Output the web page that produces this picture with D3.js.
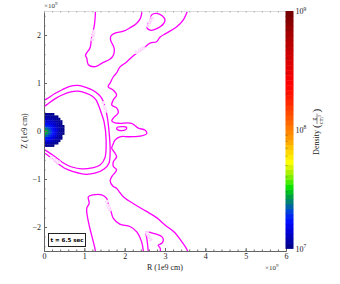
<!DOCTYPE html>
<html>
<head>
<meta charset="utf-8">
<script src="https://cdn.jsdelivr.net/npm/d3@7"></script>
<style>
 body { margin: 0; background: #fff; }
 svg { display: block; font-family: "Liberation Serif", "DejaVu Serif", serif; }
</style>
</head>
<body>
<svg width="340" height="284"></svg>
<script>
// ---- data (R, Z in 1e9 cm) ----
var xTicks = [0, 1, 2, 3, 4, 5, 6];
var yTicks = [-2, -1, 0, 1, 2];
var cbTickVals = [1e7, 1e8, 1e9];
var cbTickExp = ["7", "8", "9"];
var timeLabel = "t = 6.5 sec";
var levelLabel = "0.005";

// density blob, log10(rho) per cell (0 = below colour range)
var blobR = [0, 0.05, 0.10, 0.15, 0.20, 0.25, 0.30, 0.35, 0.40, 0.45];
var blobZ = [0.375, 0.325, 0.275, 0.225, 0.175, 0.125, 0.075, 0.025, -0.025, -0.075, -0.125, -0.175, -0.225, -0.275];
var blobLogRho = [
  [7.03, 7.03, 7.03, 7.02, 7.02, 0, 0, 0, 0, 0],
  [7.06, 7.06, 7.05, 7.05, 7.04, 7.03, 7.02, 0, 0, 0],
  [7.10, 7.10, 7.09, 7.08, 7.07, 7.05, 7.04, 7.02, 0, 0],
  [7.15, 7.14, 7.13, 7.12, 7.10, 7.08, 7.06, 7.04, 7.02, 0],
  [7.21, 7.20, 7.18, 7.16, 7.14, 7.11, 7.08, 7.05, 7.03, 0],
  [7.29, 7.27, 7.25, 7.22, 7.18, 7.14, 7.10, 7.06, 7.03, 7.01],
  [7.39, 7.36, 7.32, 7.27, 7.22, 7.17, 7.12, 7.07, 7.04, 7.02],
  [7.48, 7.44, 7.38, 7.31, 7.25, 7.19, 7.13, 7.08, 7.04, 7.02],
  [7.46, 7.42, 7.36, 7.30, 7.24, 7.18, 7.12, 7.07, 7.04, 7.01],
  [7.37, 7.34, 7.30, 7.25, 7.20, 7.15, 7.10, 7.06, 7.03, 0],
  [7.27, 7.25, 7.22, 7.19, 7.15, 7.11, 7.08, 7.05, 7.02, 0],
  [7.18, 7.17, 7.15, 7.13, 7.10, 7.07, 7.05, 7.03, 0, 0],
  [7.10, 7.10, 7.09, 7.07, 7.05, 7.04, 7.02, 0, 0, 0],
  [7.04, 7.04, 7.03, 7.02, 7.01, 0, 0, 0, 0, 0]
];

// contour lines of the 0.005 level
var topPlume = [[1.28,2.55],[1.25,2.21],[1.18,1.94],[1.14,1.73],[1.03,1.58],[1.06,1.52],[1.10,1.38],[1.27,1.34],[1.43,1.41],[1.64,1.50],[1.72,1.58],[1.74,1.72],[1.65,1.90],[1.66,1.98],[1.76,2.04],[1.97,2.08],[2.13,2.15],[2.28,2.23],[2.38,2.33],[2.42,2.44],[2.42,2.55]];
var smallTopLoop = [[2.67,2.42],[2.79,2.45],[2.93,2.40],[3.00,2.31],[2.88,2.17],[2.63,2.10],[2.55,2.17],[2.63,2.31]];
var outerFront = [[3.58,2.55],[3.45,2.31],[3.29,2.17],[3.04,2.04],[2.88,1.96],[2.79,1.86],[2.63,1.83],[2.42,1.69],[2.23,1.58],[2.05,1.44],[1.88,1.33],[1.80,1.21],[1.72,1.13],[1.64,1.00],[1.59,0.92],[1.72,0.85],[1.80,0.75],[1.72,0.65],[1.68,0.54],[1.80,0.48],[1.84,0.38],[1.72,0.27],[1.68,0.21],[1.76,0.17],[1.88,0.16],[2.17,0.16],[2.34,0.06],[2.50,0.02],[2.55,-0.05],[2.42,-0.10],[2.13,-0.12],[1.88,-0.12],[1.76,-0.19],[1.72,-0.26],[1.68,-0.36],[1.76,-0.46],[1.80,-0.54],[1.72,-0.64],[1.72,-0.74],[1.80,-0.81],[1.68,-0.95],[1.64,-1.04],[1.71,-1.15],[1.79,-1.19],[1.98,-1.38],[2.23,-1.52],[2.53,-1.67],[2.80,-1.81],[3.00,-1.96],[3.22,-2.10],[3.42,-2.31],[3.55,-2.48],[3.57,-2.55]];
var bulgeLoop = [[1.80,0.06],[1.93,0.09],[2.05,0.07],[2.01,0.02],[1.84,0.02]];
var shellOuter = [[0,0.64],[0.07,0.67],[0.27,0.78],[0.45,0.86],[0.64,0.93],[0.84,0.95],[1.04,0.91],[1.21,0.85],[1.34,0.77],[1.44,0.67],[1.56,0.33],[1.62,-0.08],[1.64,-0.40],[1.61,-0.67],[1.49,-0.79],[1.26,-0.88],[0.99,-0.90],[0.74,-0.85],[0.50,-0.77],[0.30,-0.65],[0.15,-0.54],[0.05,-0.48],[0,-0.46]];
var shellInner = [[0,0.51],[0.07,0.55],[0.27,0.67],[0.45,0.75],[0.64,0.81],[0.84,0.83],[1.04,0.79],[1.19,0.73],[1.29,0.65],[1.34,0.56],[1.41,0.40],[1.49,0.19],[1.54,-0.19],[1.51,-0.56],[1.39,-0.71],[1.19,-0.77],[0.94,-0.79],[0.69,-0.75],[0.45,-0.65],[0.25,-0.52],[0.07,-0.42],[0,-0.38]];
var lowerPlume = [[1.27,-2.55],[1.27,-2.48],[1.18,-2.17],[1.10,-1.89],[1.06,-1.61],[1.12,-1.51],[1.10,-1.37],[1.22,-1.33],[1.43,-1.33],[1.55,-1.40],[1.59,-1.51],[1.64,-1.61],[1.72,-1.82],[1.88,-1.94],[2.13,-1.99],[2.30,-2.10],[2.42,-2.31],[2.46,-2.48],[2.47,-2.55]];
var bottomLoop = [[2.59,-2.55],[2.57,-2.38],[2.55,-2.24],[2.53,-2.10],[2.67,-2.12],[2.79,-2.15],[2.92,-2.20],[2.96,-2.27],[2.92,-2.34],[2.83,-2.38],[2.88,-2.44],[2.88,-2.55]];

var openLines = [topPlume, outerFront, shellOuter, shellInner, lowerPlume, bottomLoop];
var closedLines = [smallTopLoop, bulgeLoop];

// where the level labels sit, and their angle
var labelR = [1.22, 2.38, 1.50, 0.27, 1.59, 2.60, 2.63];
var labelZ = [1.99, 1.69, 0.50, -0.60, -1.56, -2.19, 2.27];
var labelAngle = [-82, -30, 72, 35, 68, 62, -60];

// colour map (position along bar -> colour)
var cmapPos = [0, 0.034, 0.08, 0.12, 0.155, 0.185, 0.22, 0.256, 0.29, 0.33, 0.365, 0.415, 0.458, 0.5, 0.563, 0.626, 0.689, 0.794, 0.9, 1];
var cmapCol = ["#000080","#0000a8","#0000e0","#0010ff","#0040e0","#007090","#00a040","#00e000","#60f000","#c0f000","#ffff00","#ffd000","#ffa000","#ff8000","#ff5000","#ff2000","#ff0000","#d80000","#a80000","#700000"];

var svg = d3.select("svg");

var x = d3.scaleLinear().domain([0, 6]).range([44, 286]),
    y = d3.scaleLinear().domain([-2.5, 2.5]).range([251, 11]);

var cmap = d3.scaleLinear().domain(cmapPos).range(cmapCol).clamp(true);
var logNorm = d3.scaleLinear().domain([7, 9]).range([0, 1]);

svg.append("defs").append("clipPath")
    .attr("id", "clip")
    .append("rect")
    .attr("x", x(0)).attr("y", y(2.5))
    .attr("width", x(6) - x(0)).attr("height", y(-2.5) - y(2.5));

var plot = svg.append("g").attr("clip-path", "url(#clip)");

// density cells
blobLogRho.forEach(function(row, i) {
  row.forEach(function(v, j) {
    if (!v) return;
    plot.append("rect")
      .attr("x", x(blobR[j]))
      .attr("y", y(blobZ[i]))
      .attr("width", x(0.05) - x(0) + 0.3)
      .attr("height", y(0) - y(0.05) + 0.3)
      .attr("fill", cmap(logNorm(v)));
  });
});

var line = d3.line()
    .x(function(d) { return x(d[0]); })
    .y(function(d) { return y(d[1]); })
    .curve(d3.curveCatmullRom);
var loop = d3.line()
    .x(function(d) { return x(d[0]); })
    .y(function(d) { return y(d[1]); })
    .curve(d3.curveCatmullRomClosed);

openLines.forEach(function(c) {
  plot.append("path").attr("d", line(c))
    .attr("fill", "none").attr("stroke", "#ff00ff").attr("stroke-width", 1.3);
});
closedLines.forEach(function(c) {
  plot.append("path").attr("d", loop(c))
    .attr("fill", "none").attr("stroke", "#ff00ff").attr("stroke-width", 1.3);
});

labelR.forEach(function(r, i) {
  plot.append("text")
    .attr("transform", "translate(" + x(r) + "," + y(labelZ[i]) + ") rotate(" + labelAngle[i] + ")")
    .attr("text-anchor", "middle").attr("dy", "0.35em")
    .style("font-size", "4px")
    .style("font-family", "'DejaVu Sans', sans-serif")
    .attr("fill", "#ff99ff")
    .attr("stroke", "#fff").attr("stroke-width", 1).attr("paint-order", "stroke")
    .text(levelLabel);
});

// axes
var gx = svg.append("g")
    .attr("transform", "translate(0," + y(-2.5) + ")")
    .call(d3.axisBottom(x).tickValues(xTicks).tickSize(-3).tickSizeOuter(0).tickPadding(2).tickFormat(d3.format("d")));
var gy = svg.append("g")
    .attr("transform", "translate(" + x(0) + ",0)")
    .call(d3.axisLeft(y).tickValues(yTicks).tickSize(-3).tickSizeOuter(0).tickPadding(3).tickFormat(d3.format("d")));
var gxMinor = svg.append("g")
    .attr("transform", "translate(0," + y(-2.5) + ")")
    .call(d3.axisBottom(x).ticks(24).tickSize(-1.5).tickFormat(""));
var gyMinor = svg.append("g")
    .attr("transform", "translate(" + x(0) + ",0)")
    .call(d3.axisLeft(y).ticks(20).tickSize(-1.5).tickFormat(""));
var gTop = svg.append("g")
    .attr("transform", "translate(0," + y(2.5) + ")")
    .call(d3.axisTop(x).ticks(24).tickSize(-1.5).tickFormat(""));

[gx, gy, gxMinor, gyMinor].forEach(function(g) {
  g.selectAll(".domain").attr("stroke", "#666");
  g.selectAll(".tick line").attr("stroke", "#666");
  g.selectAll("text").attr("fill", "#222").style("font-size", "8px")
    .style("font-family", "'Liberation Serif', serif");
});
gTop.selectAll(".domain").attr("stroke", "#ddd");
gTop.selectAll(".tick line").attr("stroke", "#aaa");

// axis titles
svg.append("text")
    .attr("x", (x(0) + x(6)) / 2).attr("y", 270)
    .attr("text-anchor", "middle").style("font-size", "8px").attr("fill", "#222")
    .text("R (1e9 cm)");
svg.append("text")
    .attr("transform", "translate(27," + y(0) + ") rotate(-90)")
    .attr("text-anchor", "middle").style("font-size", "8px").attr("fill", "#222")
    .text("Z (1e9 cm)");

function sci(g, px, py) {
  var t = g.append("text").attr("x", px).attr("y", py).style("font-size", "7px").attr("fill", "#333");
  t.append("tspan").text("\u00d710");
  t.append("tspan").attr("dy", -3).style("font-size", "5px").text("9");
}
sci(svg, 265, 270);
sci(svg, 44, 8);

// time box
svg.append("rect")
    .attr("x", 48.5).attr("y", 233.5).attr("width", 37).attr("height", 13)
    .attr("fill", "#fff").attr("stroke", "#222").attr("stroke-width", 1);
svg.append("text")
    .attr("x", 67).attr("y", 242.2)
    .attr("text-anchor", "middle")
    .style("font-size", "5.5px").style("font-weight", "bold")
    .style("font-family", "'DejaVu Sans', sans-serif")
    .text(timeLabel);

// colour bar
var cb = d3.scaleLog().domain([1e7, 1e9]).range([248.5, 11]);
var nBands = 48;
var bands = d3.range(nBands);
svg.append("g").selectAll("rect").data(bands).join("rect")
    .attr("x", 285.5).attr("width", 8)
    .attr("y", function(b) { return cb(Math.pow(10, 7 + 2 * (b + 1) / nBands)); })
    .attr("height", function(b) { return cb(Math.pow(10, 7 + 2 * b / nBands)) - cb(Math.pow(10, 7 + 2 * (b + 1) / nBands)) + 0.4; })
    .attr("fill", function(b) { return cmap((b + 0.5) / nBands); });

var minor = [2,3,4,5,6,7,8,9].map(function(m) { return m * 1e7; })
    .concat([2,3,4,5,6,7,8,9].map(function(m) { return m * 1e8; }));
svg.append("g").selectAll("line").data(minor).join("line")
    .attr("x1", 285.5).attr("x2", 287.5)
    .attr("y1", function(d) { return cb(d); }).attr("y2", function(d) { return cb(d); })
    .attr("stroke", "#333").attr("stroke-opacity", 0.6).attr("stroke-width", 0.6);

cbTickVals.forEach(function(v, i) {
  var t = svg.append("text").attr("x", 295.5).attr("y", cb(v) + 3)
      .style("font-size", "8px").attr("fill", "#222");
  t.append("tspan").text("10");
  t.append("tspan").attr("dy", -3.5).style("font-size", "5.5px").text(cbTickExp[i]);
});

// colour bar title: Density (g/cm^3)
var ct = svg.append("g").attr("transform", "translate(319,131) rotate(-90)").attr("fill", "#222");
ct.append("text").attr("x", 1).attr("y", 0).attr("text-anchor", "end")
    .style("font-size", "8px").text("Density");
ct.append("text").attr("x", 3).attr("y", 1).style("font-size", "11px").text("(");
ct.append("text").attr("x", 12).attr("y", -3).attr("text-anchor", "middle").style("font-size", "5.5px").text("g");
ct.append("line").attr("x1", 7).attr("x2", 17.5).attr("y1", -2).attr("y2", -2).attr("stroke", "#222").attr("stroke-width", 0.5);
var den = ct.append("text").attr("x", 11.5).attr("y", 3.5).attr("text-anchor", "middle").style("font-size", "5.5px");
den.append("tspan").text("cm");
den.append("tspan").attr("dy", -2).style("font-size", "4px").text("3");
ct.append("text").attr("x", 18.5).attr("y", 1).style("font-size", "11px").text(")");
</script>
</body>
</html>
